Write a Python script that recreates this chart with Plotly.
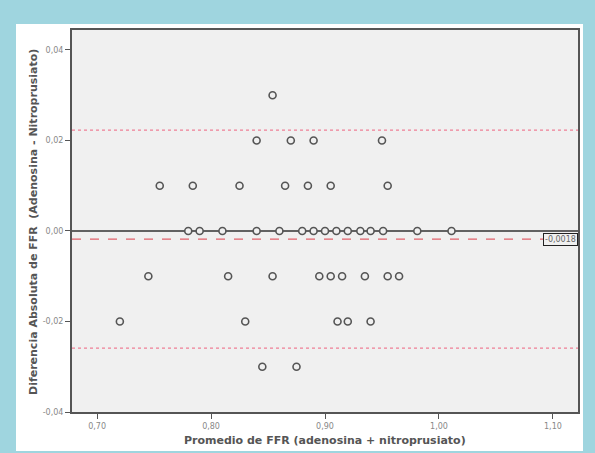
import plotly.graph_objects as go

# Data (Bland-Altman: mean of FFR vs difference)
avg_p03 = [0.854]
avg_p02 = [0.840, 0.870, 0.890, 0.950]
avg_p01 = [0.755, 0.784, 0.825, 0.865, 0.885, 0.905, 0.955]
avg_00 = [0.780, 0.790, 0.810, 0.840, 0.860, 0.880, 0.890, 0.900, 0.910,
          0.920, 0.931, 0.940, 0.951, 0.981, 1.011]
avg_m01 = [0.745, 0.815, 0.854, 0.895, 0.905, 0.915, 0.935, 0.955, 0.965]
avg_m02 = [0.720, 0.830, 0.911, 0.920, 0.940]
avg_m03 = [0.845, 0.875]

groups = [(0.03, avg_p03), (0.02, avg_p02), (0.01, avg_p01), (0.0, avg_00),
          (-0.01, avg_m01), (-0.02, avg_m02), (-0.03, avg_m03)]

mean_diff = -0.0018
upper_loa = 0.0223
lower_loa = -0.0259
mean_label = "-0,0018"

x_tickvals = [0.70, 0.80, 0.90, 1.00, 1.10]
x_ticktext = ["0,70", "0,80", "0,90", "1,00", "1,10"]
y_tickvals = [-0.04, -0.02, 0.00, 0.02, 0.04]
y_ticktext = ["-0,04", "-0,02", "0,00", "0,02", "0,04"]

xs, ys = [], []
for d, lst in groups:
    for a in lst:
        xs.append(a)
        ys.append(d)

X_RANGE = [0.678, 1.122]
Y_RANGE = [-0.04, 0.0444]

fig = go.Figure()

# reference lines
fig.add_trace(go.Scatter(x=X_RANGE, y=[0, 0], mode="lines",
                         line=dict(color="#333333", width=1.5), hoverinfo="skip"))
fig.add_trace(go.Scatter(x=X_RANGE, y=[mean_diff, mean_diff], mode="lines",
                         line=dict(color="#e0606a", width=1.2, dash="dash"), hoverinfo="skip"))
for v in (upper_loa, lower_loa):
    fig.add_trace(go.Scatter(x=X_RANGE, y=[v, v], mode="lines",
                             line=dict(color="#ee7f95", width=1.2, dash="dot"), hoverinfo="skip"))

fig.add_trace(go.Scatter(x=xs, y=ys, mode="markers",
                         marker=dict(symbol="circle", size=7, color="rgba(240,240,240,1)",
                                     line=dict(color="#555555", width=1.6))))

font_fam = "DejaVu Sans, Verdana, sans-serif"

fig.update_layout(
    width=595, height=453,
    margin=dict(l=72, r=17, t=30, b=41),
    paper_bgcolor="#9fd5df",
    plot_bgcolor="rgba(0,0,0,0)",
    showlegend=False,
    shapes=[
        dict(type="rect", xref="paper", yref="paper", layer="below",
             x0=(16 - 72) / 506, x1=(583 - 72) / 506,
             y0=(412 - 451) / 382, y1=(412 - 24) / 382,
             fillcolor="white", line=dict(width=0)),
        dict(type="rect", xref="paper", yref="paper", layer="below",
             x0=0, x1=1, y0=0, y1=1,
             fillcolor="#f0f0f0", line=dict(width=0)),
    ],
    annotations=[
        dict(text="<b>Promedio de FFR (adenosina + nitroprusiato)</b>",
             xref="paper", yref="paper", x=(325 - 72) / 506, y=(412 - 440) / 382,
             xanchor="center", yanchor="middle", showarrow=False,
             font=dict(family=font_fam, size=11, color="#555555")),
        dict(text="<b>Diferencia Absoluta de FFR  (Adenosina - Nitroprusiato)</b>",
             xref="paper", yref="paper", x=(33 - 72) / 506, y=(412 - 222) / 382,
             xanchor="center", yanchor="middle", textangle=-90, showarrow=False,
             font=dict(family=font_fam, size=11, color="#555555")),
        dict(text=mean_label, xref="paper", yref="y", x=1, y=mean_diff,
             xanchor="right", yanchor="middle", showarrow=False,
             bgcolor="#f0f0f0", bordercolor="#222222", borderwidth=1, borderpad=1,
             font=dict(family=font_fam, size=8, color="#666666")),
    ],
)

fig.update_xaxes(range=X_RANGE, tickvals=x_tickvals, ticktext=x_ticktext,
                 showgrid=False, zeroline=False, showline=True, mirror=True,
                 linecolor="#555555", linewidth=2, ticks="outside", ticklen=5,
                 tickcolor="#555555", tickfont=dict(family=font_fam, size=8, color="#888888"))
fig.update_yaxes(range=Y_RANGE, tickvals=y_tickvals, ticktext=y_ticktext,
                 showgrid=False, zeroline=False, showline=True, mirror=True,
                 linecolor="#555555", linewidth=2, ticks="outside", ticklen=5,
                 tickcolor="#555555", tickfont=dict(family=font_fam, size=8, color="#888888"))

fig.write_html("out.html")
